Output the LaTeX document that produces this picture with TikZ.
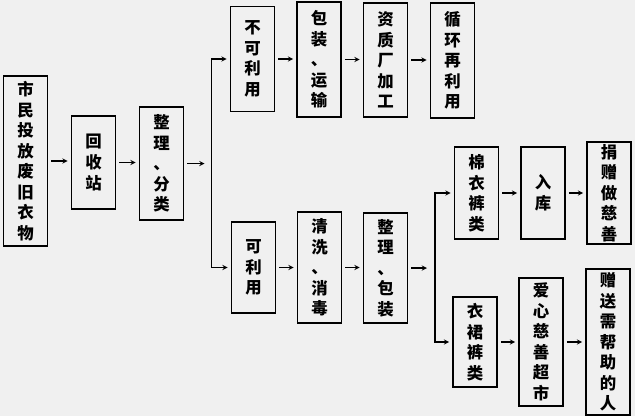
\documentclass[tikz,border=0pt]{standalone}
\usepackage{fontspec}
\newfontfamily\cjk{Noto Sans CJK SC}
\usepackage{xcolor}
\usetikzlibrary{calc}
\definecolor{bg}{RGB}{240,240,240}

\begin{document}
\begin{tikzpicture}[x=0.03cm,y=-0.03cm,
  box/.style={draw, line width=1.5pt, fill=bg, inner sep=0pt, align=center,
    minimum width=44*0.03cm, minimum height=#1*0.03cm,
    font=\cjk\bfseries\fontsize{14}{17.5}\selectfont},
  arr/.style={-stealth, line width=1pt, shorten <=3*0.03cm, shorten >=3*0.03cm},
  fork/.style={stealth-stealth, line width=1pt, shorten <=3*0.03cm, shorten >=3*0.03cm}]
\fill[bg] (0,0) rectangle (635,416);
% left column
\node[box=170] (shimin) at (25.5,161) {市\\民\\投\\放\\废\\旧\\衣\\物};
\node[box=93] (huishou) at (93.5,162.5) {回\\收\\站};
\node[box=113] (fenlei) at (161.5,163.5) {整\\理\\、\\分\\类};
\draw[arr] (shimin) -- (shimin -| huishou.west);
\draw[arr] (huishou) -- (huishou -| fenlei.west);
% first fork
\coordinate (s1) at (211.5,163.5);
\draw[arr, shorten >=7*0.03cm] (fenlei) -- (s1);
% top row
\node[box=105] (bukeyong) at (252.5,59) {不\\可\\利\\用};
\node[box=115] (baozhuang) at (319,59.5) {包\\装\\、\\运\\输};
\node[box=114] (jiagong) at (385.5,60) {资\\质\\厂\\加\\工};
\node[box=115] (xunhuan) at (452.5,60.5) {循\\环\\再\\利\\用};
\draw[arr] (bukeyong) -- (bukeyong -| baozhuang.west);
\draw[arr] (baozhuang) -- (baozhuang -| jiagong.west);
\draw[arr] (jiagong) -- (jiagong -| xunhuan.west);
% middle row
\node[box=91] (keyong) at (253.5,267.5) {可\\利\\用};
\node[box=111] (qingxi) at (319.5,267.5) {清\\洗\\、\\消\\毒};
\node[box=110] (zhengli) at (385.5,268) {整\\理\\、\\包\\装};
\draw[arr] (keyong) -- (keyong -| qingxi.west);
\draw[arr] (qingxi) -- (qingxi -| zhengli.west);
\draw[fork] (bukeyong) -| (s1) |- (keyong);
% second fork
\coordinate (s2) at (435,268);
\draw[arr, shorten >=8*0.03cm] (zhengli) -- (s2);
\node[box=92] (mianyi) at (476.5,193) {棉\\衣\\裤\\类};
\node[box=92] (ruku) at (543,193) {入\\库};
\node[box=102] (juanzeng) at (609,193) {捐\\赠\\做\\慈\\善};
\node[box=90] (yiqun) at (475,342) {衣\\裙\\裤\\类};
\node[box=128] (chaoshi) at (541,342) {爱\\心\\慈\\善\\超\\市};
\node[box=146] (zengsong) at (608,342) {赠\\送\\需\\帮\\助\\的\\人};
\draw[fork] (mianyi) -| (s2) |- (yiqun);
\draw[arr] (mianyi) -- (mianyi -| ruku.west);
\draw[arr] (ruku) -- (ruku -| juanzeng.west);
\draw[arr] (yiqun) -- (yiqun -| chaoshi.west);
\draw[arr] (chaoshi) -- (chaoshi -| zengsong.west);
\end{tikzpicture}
\end{document}
